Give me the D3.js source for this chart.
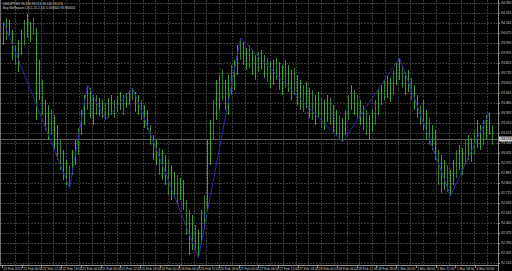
<!DOCTYPE html>
<html><head><meta charset="utf-8">
<script src="https://cdn.jsdelivr.net/npm/d3@7"></script>
<style>html,body{margin:0;padding:0;background:#000;overflow:hidden}</style>
</head><body>
<svg id="c" width="512" height="271"></svg>
<script>
const highs = [94.169,94.203,94.186,94.101,93.973,94.016,94.101,94.186,94.237,94.169,
94.203,94.118,93.846,93.676,93.506,93.463,93.421,93.378,93.293,93.166,
93.081,92.996,92.953,93.081,93.166,93.268,93.421,93.548,93.633,93.608,
93.548,93.548,93.523,93.506,93.480,93.523,93.548,93.506,93.540,93.574,
93.548,93.565,93.591,93.608,93.574,93.548,93.506,93.463,93.421,93.293,
93.208,93.166,93.098,93.081,93.038,92.996,92.953,92.894,92.868,92.843,
92.826,92.656,92.571,92.528,92.443,92.401,92.571,92.698,93.166,93.336,
93.506,93.676,93.718,93.761,93.676,93.718,93.803,93.846,93.973,94.033,
93.999,93.948,93.973,93.931,93.888,93.914,93.931,93.888,93.863,93.829,
93.846,93.863,93.829,93.803,93.846,93.803,93.761,93.778,93.718,93.676,
93.633,93.659,93.608,93.591,93.548,93.574,93.523,93.506,93.548,93.523,
93.463,93.421,93.378,93.353,93.421,93.548,93.633,93.591,93.548,93.506,
93.463,93.421,93.378,93.421,93.506,93.591,93.633,93.676,93.718,93.693,
93.761,93.829,93.863,93.803,93.744,93.761,93.693,93.633,93.548,93.463,
93.506,93.421,93.353,93.293,93.251,93.081,93.038,92.996,92.953,92.911,
92.996,93.081,93.123,93.098,93.166,93.208,93.183,93.251,93.336,93.293,
93.336,93.378,93.404,93.293];
const lows = [93.973,94.016,94.058,93.846,93.803,93.744,93.888,93.973,94.033,93.999,
94.058,93.336,93.506,93.378,93.251,93.166,93.208,93.081,92.996,92.911,
92.826,92.783,92.758,92.868,92.953,93.038,93.208,93.293,93.421,93.353,
93.293,93.378,93.370,93.353,93.336,93.353,93.378,93.353,93.404,93.421,
93.378,93.438,93.463,93.506,93.404,93.378,93.336,93.268,93.251,93.123,
92.996,92.953,92.868,92.826,92.783,92.698,92.656,92.673,92.613,92.656,
92.571,92.358,92.188,92.231,92.214,92.163,92.273,92.401,92.571,92.953,
93.166,93.336,93.421,93.506,93.421,93.378,93.548,93.591,93.718,93.846,
93.803,93.761,93.778,93.718,93.676,93.744,93.761,93.693,93.659,93.608,
93.633,93.676,93.591,93.548,93.608,93.574,93.506,93.548,93.463,93.421,
93.404,93.438,93.353,93.336,93.293,93.353,93.268,93.251,93.319,93.293,
93.234,93.208,93.166,93.149,93.208,93.336,93.421,93.378,93.353,93.293,
93.251,93.208,93.166,93.234,93.293,93.378,93.463,93.506,93.523,93.489,
93.548,93.633,93.676,93.608,93.548,93.574,93.506,93.421,93.353,93.293,
93.251,93.166,93.123,93.081,92.996,92.783,92.715,92.741,92.724,92.690,
92.783,92.843,92.911,92.868,92.953,92.996,92.979,93.038,93.098,93.081,
93.123,93.166,93.208,93.123];
const zigIdx = [0,22,28,34,43,65,79,113,132,149,162];
const zigPrice = [94.169,92.758,93.633,93.336,93.608,92.163,94.033,93.149,93.863,92.690,93.404];
const priceTicks = [94.330,94.245,94.160,94.075,93.990,93.905,93.820,93.735,93.650,93.565,
93.480,93.395,93.310,93.225,93.140,93.055,92.970,92.885,92.800,92.715,92.630,92.545,
92.460,92.375,92.290,92.205,92.120];
const timeLabels = ["22 Feb 2013","22 Feb 06:00","22 Feb 12:00","22 Feb 18:00","25 Feb 00:00",
"25 Feb 06:00","25 Feb 12:00","25 Feb 18:00","26 Feb 00:00","26 Feb 06:00","26 Feb 12:00",
"26 Feb 18:00","27 Feb 00:00","27 Feb 06:00","27 Feb 12:00","27 Feb 18:00","28 Feb 00:00",
"28 Feb 06:00","28 Feb 12:00","28 Feb 18:00","1 Mar 00:00","1 Mar 06:00","1 Mar 12:00",
"1 Mar 18:00","4 Mar 00:00"];
const bidPrice = 93.174;
const headerLines = ["USDJPY,H1  93.196 93.213 93.132 93.174",
"Buy NoRepaint (20,1,20,2,10) 0.000000 93.840000"];

const W = 512, H = 271, plotR = 498, plotB = 265;
const svg = d3.select("#c");
svg.append("rect").attr("width", W).attr("height", H).attr("fill", "#000");

const y = d3.scaleLinear().domain([92.120, 94.330]).range([263, 3]);
const x = d3.scaleLinear().domain([0, highs.length - 1]).range([3, 492]);
const xLab = d3.scaleLinear().domain([0, timeLabels.length - 1]).range([2, 475]);
const gridCount = 38;
const xGrid = d3.scaleLinear().domain([0, 1]).range([15, 27.75]);

const font = "'Liberation Sans', Arial, sans-serif";

// grid
const g = svg.append("g").attr("stroke", "#3a3a3a").attr("stroke-dasharray", "2,1").attr("stroke-width", 1);
g.selectAll("line.h").data(priceTicks).join("line")
  .attr("x1", 1).attr("x2", plotR)
  .attr("y1", d => Math.round(y(d)) + 0.5).attr("y2", d => Math.round(y(d)) + 0.5);
g.selectAll("line.v").data(d3.range(gridCount).filter(k => xGrid(k) < plotR)).join("line")
  .attr("x1", k => Math.round(xGrid(k)) + 0.5).attr("x2", k => Math.round(xGrid(k)) + 0.5)
  .attr("y1", 0).attr("y2", plotB);

// borders
svg.append("line").attr("x1", 0.5).attr("x2", 0.5).attr("y1", 0).attr("y2", plotB).attr("stroke", "#707070");
svg.append("line").attr("x1", plotR + 0.5).attr("x2", plotR + 0.5).attr("y1", 0).attr("y2", H).attr("stroke", "#909090");
svg.append("line").attr("x1", 0).attr("x2", plotR).attr("y1", plotB + 0.5).attr("y2", plotB + 0.5).attr("stroke", "#909090");

// bid line
svg.append("line").attr("x1", 1).attr("x2", plotR)
  .attr("y1", Math.round(y(bidPrice)) + 0.5).attr("y2", Math.round(y(bidPrice)) + 0.5)
  .attr("stroke", "#5c5c5c").attr("stroke-width", 1);

// bars
svg.append("g").selectAll("line").data(highs).join("line")
  .attr("x1", (d, i) => Math.round(x(i)) + 0.5).attr("x2", (d, i) => Math.round(x(i)) + 0.5)
  .attr("y1", d => y(d)).attr("y2", (d, i) => y(lows[i]))
  .attr("stroke", (d, i) => i % 3 === 1 ? "#2a872a" : "#33a533").attr("stroke-width", 1);

// zigzag
const zz = zigIdx.map((idx, k) => [x(idx) + 0.5, y(zigPrice[k])]);
svg.append("path").attr("d", d3.line()(zz)).attr("fill", "none")
  .attr("stroke", "#2a2aa6").attr("stroke-width", 1);

// price labels
const pl = svg.append("g").attr("font-family", font).attr("font-size", 3.4).attr("fill", "#d0d0d0");
pl.selectAll("text").data(priceTicks).join("text")
  .attr("x", 501).attr("y", d => y(d) + 1.2).text(d => d.toFixed(3));
svg.append("g").selectAll("line").data(priceTicks).join("line")
  .attr("x1", plotR).attr("x2", plotR + 2)
  .attr("y1", d => Math.round(y(d)) + 0.5).attr("y2", d => Math.round(y(d)) + 0.5)
  .attr("stroke", "#909090");

// current price box
svg.append("rect").attr("x", plotR + 1).attr("y", y(bidPrice) - 2.5).attr("width", W - plotR - 1).attr("height", 5)
  .attr("fill", "#c8c8c8");
svg.append("text").attr("x", 501).attr("y", y(bidPrice) + 1.2).attr("font-family", font).attr("font-size", 3.4)
  .attr("fill", "#000").text(bidPrice.toFixed(3));

// time labels
const tl = svg.append("g").attr("font-family", font).attr("font-size", 3.3).attr("fill", "#d0d0d0");
tl.selectAll("text").data(timeLabels).join("text")
  .attr("x", (d, i) => xLab(i) + 1.5).attr("y", 269.8).text(d => d);
svg.append("g").selectAll("line").data(timeLabels).join("line")
  .attr("x1", (d, i) => Math.round(xLab(i)) + 0.5).attr("x2", (d, i) => Math.round(xLab(i)) + 0.5)
  .attr("y1", plotB).attr("y2", plotB + 3).attr("stroke", "#909090");

// header
svg.append("g").attr("font-family", font).attr("font-size", 3.2).attr("fill", "#d8d8d8")
  .selectAll("text").data(headerLines).join("text")
  .attr("x", 3).attr("y", (d, i) => 5 + i * 4).text(d => d);
</script>
</body></html>
